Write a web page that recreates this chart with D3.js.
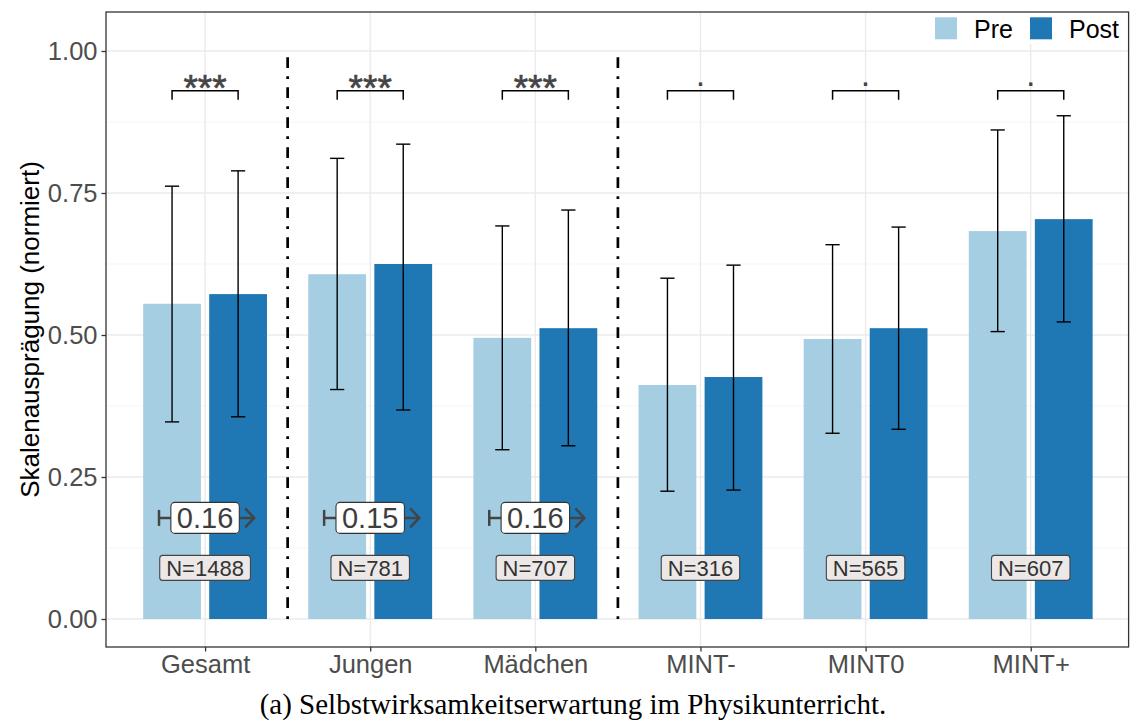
<!DOCTYPE html>
<html><head><meta charset="utf-8">
<script src="https://cdn.jsdelivr.net/npm/d3@7"></script>
<style>body{margin:0;background:#fff} svg{display:block}</style>
</head><body><svg id="chart" width="1130" height="724"></svg>
<script>
const categories = ["Gesamt", "Jungen", "Mädchen", "MINT-", "MINT0", "MINT+"];
const preMean  = [0.555, 0.607, 0.495, 0.412, 0.493, 0.683];
const postMean = [0.572, 0.625, 0.512, 0.426, 0.512, 0.704];
const preLow   = [0.347, 0.404, 0.298, 0.225, 0.327, 0.506];
const preHigh  = [0.762, 0.811, 0.692, 0.600, 0.659, 0.861];
const postLow  = [0.356, 0.368, 0.305, 0.227, 0.334, 0.523];
const postHigh = [0.789, 0.836, 0.720, 0.623, 0.690, 0.886];
const sigLabels = ["***", "***", "***", ".", ".", "."];
const effectSizes = ["0.16", "0.15", "0.16", null, null, null];
const sampleSizes = ["N=1488", "N=781", "N=707", "N=316", "N=565", "N=607"];
const yTicks = [0, 0.25, 0.5, 0.75, 1];
const yMinor = [0.125, 0.375, 0.625, 0.875];
const separators = [["Gesamt", "Jungen"], ["Mädchen", "MINT-"]];
const legendItems = ["Pre", "Post"];
const colors = {Pre: "#a6cee3", Post: "#1f78b4"};
const bracketY = 0.930, bracketTick = 0.914, effectY = 0.178, nY = 0.090;

const font = "'Liberation Sans', Arial, Helvetica, sans-serif";
const svg = d3.select("#chart");
const P = {left: 106, right: 1129.8, top: 12, bottom: 647};

const x = d3.scalePoint().domain(categories).range([P.left, P.right]).padding(0.6);
const step = x.step();
const y = d3.scaleLinear().domain([0, 1]).range([619, 51]);
const off = 0.2 * step, bw = 0.35 * step, cap = 0.043 * step;

const data = categories.map((c, i) => ({c, i}));

// panel background
svg.append("rect").attr("x", P.left).attr("y", P.top).attr("width", P.right - P.left).attr("height", P.bottom - P.top).attr("fill", "#fff");

// grid
const g = svg.append("g");
g.selectAll(".minor").data(yMinor).join("line")
  .attr("x1", P.left).attr("x2", P.right).attr("y1", d => y(d)).attr("y2", d => y(d))
  .attr("stroke", "#f2f2f2").attr("stroke-width", 0.8);
g.selectAll(".major").data(yTicks).join("line")
  .attr("x1", P.left).attr("x2", P.right).attr("y1", d => y(d)).attr("y2", d => y(d))
  .attr("stroke", "#ebebeb").attr("stroke-width", 1.4);
g.selectAll(".vmajor").data(categories).join("line")
  .attr("x1", d => x(d)).attr("x2", d => x(d)).attr("y1", P.top).attr("y2", P.bottom)
  .attr("stroke", "#ebebeb").attr("stroke-width", 1.4);

// bars
const bars = svg.append("g");
bars.selectAll(".pre").data(data).join("rect")
  .attr("x", d => x(d.c) - off - bw / 2).attr("width", bw)
  .attr("y", d => y(preMean[d.i])).attr("height", d => y(0) - y(preMean[d.i]))
  .attr("fill", colors.Pre);
bars.selectAll(".post").data(data).join("rect")
  .attr("x", d => x(d.c) + off - bw / 2).attr("width", bw)
  .attr("y", d => y(postMean[d.i])).attr("height", d => y(0) - y(postMean[d.i]))
  .attr("fill", colors.Post);

// error bars
function errbar(cx, lo, hi) {
  const e = svg.append("g").attr("stroke", "#000").attr("stroke-width", 1.4);
  e.append("line").attr("x1", cx).attr("x2", cx).attr("y1", y(lo)).attr("y2", y(hi));
  e.append("line").attr("x1", cx - cap).attr("x2", cx + cap).attr("y1", y(lo)).attr("y2", y(lo));
  e.append("line").attr("x1", cx - cap).attr("x2", cx + cap).attr("y1", y(hi)).attr("y2", y(hi));
}
data.forEach(d => {
  errbar(x(d.c) - off, preLow[d.i], preHigh[d.i]);
  errbar(x(d.c) + off, postLow[d.i], postHigh[d.i]);
});

// separators (dot-dash)
separators.forEach(([a, b]) => {
  const sx = (x(a) + x(b)) / 2;
  svg.append("line").attr("x1", sx).attr("x2", sx).attr("y1", y(0)).attr("y2", y(1))
    .attr("stroke", "#000").attr("stroke-width", 2.7)
    .attr("stroke-dasharray", "2.7,8.2,10.9,8.2");
});

// significance brackets
data.forEach(d => {
  const x1 = x(d.c) - off, x2 = x(d.c) + off;
  svg.append("path")
    .attr("d", `M${x1},${y(bracketTick)}V${y(bracketY)}H${x2}V${y(bracketTick)}`)
    .attr("fill", "none").attr("stroke", "#000").attr("stroke-width", 1.5);
  const lab = sigLabels[d.i];
  svg.append("text").attr("x", x(d.c))
    .attr("y", lab === "." ? y(bracketY) - 4.5 : y(bracketY) + 10.5)
    .attr("text-anchor", "middle").attr("font-family", font)
    .attr("font-size", lab === "." ? 34 : 37).attr("fill", "#444")
    .attr("stroke", lab === "." ? "none" : "#444").attr("stroke-width", 0.6).text(lab);
});

// effect size arrows + labels
data.forEach(d => {
  const es = effectSizes[d.i];
  if (!es) return;
  const cx = x(d.c), yy = y(effectY);
  const xs = cx - 0.279 * step, xe = cx + 0.297 * step;
  const a = svg.append("g").attr("stroke", "#444").attr("stroke-width", 2.5).attr("fill", "none");
  a.append("line").attr("x1", xs).attr("x2", xe).attr("y1", yy).attr("y2", yy);
  a.append("line").attr("x1", xs).attr("x2", xs).attr("y1", yy - 8).attr("y2", yy + 8);
  a.append("path").attr("d", `M${xe - 9},${yy - 9.5}L${xe},${yy}L${xe - 9},${yy + 9.5}`);
  const t = svg.append("text").attr("x", cx).attr("y", yy).attr("dy", "0.36em")
    .attr("text-anchor", "middle").attr("font-family", font).attr("font-size", 29)
    .attr("fill", "#3d3d3d").text(es);
  const w = t.node().getComputedTextLength() + 12;
  svg.insert("rect", () => t.node())
    .attr("x", cx - w / 2).attr("y", yy - 15.5).attr("width", w).attr("height", 31)
    .attr("rx", 4).attr("fill", "#fff").attr("stroke", "#333").attr("stroke-width", 1.1);
});

// N labels
data.forEach(d => {
  const cx = x(d.c), yy = y(nY);
  const t = svg.append("text").attr("x", cx).attr("y", yy).attr("dy", "0.36em")
    .attr("text-anchor", "middle").attr("font-family", font).attr("font-size", 22)
    .attr("fill", "#333").text(sampleSizes[d.i]);
  const w = t.node().getComputedTextLength() + 13;
  svg.insert("rect", () => t.node())
    .attr("x", cx - w / 2).attr("y", yy - 12.5).attr("width", w).attr("height", 25)
    .attr("rx", 3).attr("fill", "#ece8e8").attr("stroke", "#444").attr("stroke-width", 1.1);
});

// legend
const lg = svg.append("g");
lg.append("rect").attr("x", 926).attr("y", P.top + 1).attr("width", P.right - 928).attr("height", 31).attr("fill", "#fff");
const legX = [935, 1030];
legendItems.forEach((k, i) => {
  lg.append("rect").attr("x", legX[i]).attr("y", 17.3).attr("width", 22).attr("height", 22).attr("fill", colors[k]);
  lg.append("text").attr("x", legX[i] + 39).attr("y", 37.5).attr("font-family", font)
    .attr("font-size", 25).attr("fill", "#000").text(k);
});

// panel border
svg.append("rect").attr("x", P.left).attr("y", P.top).attr("width", P.right - P.left - 1.2).attr("height", P.bottom - P.top)
  .attr("fill", "none").attr("stroke", "#333").attr("stroke-width", 1.3);

// axes
const ya = svg.append("g").attr("transform", `translate(${P.left},0)`)
  .call(d3.axisLeft(y).tickValues(yTicks).tickFormat(d3.format(".2f")).tickSize(4.5).tickPadding(4));
const xa = svg.append("g").attr("transform", `translate(0,${P.bottom})`)
  .call(d3.axisBottom(x).tickSize(4.5).tickPadding(3));
[ya, xa].forEach(a => {
  a.select(".domain").remove();
  a.selectAll("line").attr("stroke", "#333").attr("stroke-width", 1.3);
  a.selectAll("text").attr("font-family", font).attr("font-size", 25.5).attr("fill", "#4d4d4d");
});

// axis title
svg.append("text").attr("transform", `translate(39,${(P.top + P.bottom) / 2}) rotate(-90)`)
  .attr("text-anchor", "middle").attr("font-family", font).attr("font-size", 26).attr("fill", "#000")
  .text("Skalenausprägung (normiert)");

// caption
svg.append("text").attr("x", 573).attr("y", 714).attr("text-anchor", "middle")
  .attr("font-family", "'Liberation Serif', 'DejaVu Serif', serif").attr("font-size", 29).attr("fill", "#000")
  .text("(a) Selbstwirksamkeitserwartung im Physikunterricht.");
</script></body></html>
